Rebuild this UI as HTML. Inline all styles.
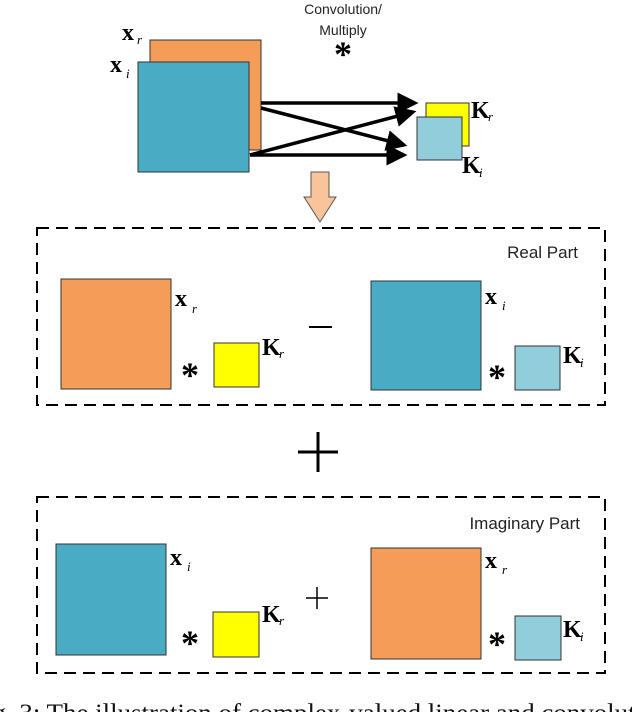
<!DOCTYPE html>
<html><head><meta charset="utf-8"><style>
html,body{margin:0;padding:0;background:#fff;overflow:hidden}
svg{display:block}
.lab{font-family:"Liberation Serif",serif;font-weight:bold;font-size:24px}
.ast{font-family:"Liberation Serif",serif;font-weight:bold;font-size:36px}
.sub{font-family:"Liberation Serif",serif;font-style:italic;font-size:13px}
.sans{font-family:"Liberation Sans","DejaVu Sans",sans-serif}
</style></head><body>
<svg width="632" height="712" viewBox="0 0 632 712" xmlns="http://www.w3.org/2000/svg">
<defs><marker id="ah" markerWidth="6" markerHeight="6" refX="5" refY="3" orient="auto" markerUnits="strokeWidth"><path d="M0,0 L6,3 L0,6 z" fill="#000"/></marker></defs>
<text x="343" y="14" class="sans" font-size="14" text-anchor="middle" fill="#222">Convolution/</text>
<text x="343" y="35" class="sans" font-size="14" text-anchor="middle" fill="#222">Multiply</text>
<text x="343" y="66" class="ast" text-anchor="middle">*</text>
<rect x="150" y="40" width="111" height="110" fill="#f49d59" stroke="#333" stroke-width="1"/>
<rect x="138" y="62" width="111" height="110" fill="#4aabc4" stroke="#333" stroke-width="1"/>
<text x="122" y="40" class="lab">x</text><text x="137" y="44" class="sub">r</text>
<text x="110" y="72" class="lab">x</text><text x="126" y="78" class="sub">i</text>
<rect x="426" y="103" width="43" height="43" fill="#ffff00" stroke="#333"/>
<rect x="417" y="117" width="45" height="43" fill="#92cddb" stroke="#333"/>
<text x="471" y="118" class="lab" font-size="21">K</text><text x="488" y="121" class="sub">r</text>
<text x="462" y="173" class="lab" font-size="21">K</text><text x="479" y="177" class="sub">i</text>
<g stroke="#000" stroke-width="3.5" fill="none" marker-end="url(#ah)">
<line x1="261" y1="103" x2="415" y2="103"/>
<line x1="261" y1="108" x2="404" y2="145"/>
<line x1="250" y1="155" x2="413" y2="112"/>
<line x1="250" y1="155" x2="404" y2="155"/>
</g>
<path d="M311,172 L329,172 L329,197 L336,197 L320,222 L304,197 L311,197 z" fill="#f9c49a" stroke="#555" stroke-width="1"/>
<rect x="37" y="228" width="568" height="177" fill="none" stroke="#000" stroke-width="2" stroke-dasharray="12,7"/>
<text x="578" y="258" class="sans" font-size="17" text-anchor="end" fill="#222">Real Part</text>
<rect x="61" y="279" width="110" height="110" fill="#f49d59" stroke="#333"/>
<text x="175" y="306" class="lab">x</text><text x="192" y="313" class="sub">r</text>
<text x="190" y="387" class="ast" text-anchor="middle">*</text>
<rect x="214" y="343" width="45" height="44" fill="#ffff00" stroke="#333"/>
<text x="262" y="355" class="lab" font-size="21">K</text><text x="279" y="358" class="sub">r</text>
<line x1="309" y1="327" x2="332" y2="327" stroke="#000" stroke-width="2"/>
<rect x="371" y="281" width="110" height="109" fill="#4aabc4" stroke="#333"/>
<text x="485" y="304" class="lab">x</text><text x="502" y="310" class="sub">i</text>
<text x="497" y="389" class="ast" text-anchor="middle">*</text>
<rect x="515" y="346" width="45" height="44" fill="#92cddb" stroke="#333"/>
<text x="563" y="363" class="lab" font-size="21">K</text><text x="580" y="367" class="sub">i</text>
<line x1="298" y1="452" x2="338" y2="452" stroke="#000" stroke-width="3"/>
<line x1="318" y1="432" x2="318" y2="472" stroke="#000" stroke-width="3"/>
<rect x="37" y="497" width="568" height="176" fill="none" stroke="#000" stroke-width="2" stroke-dasharray="12,7"/>
<text x="580" y="529" class="sans" font-size="17" text-anchor="end" fill="#222">Imaginary Part</text>
<rect x="56" y="544" width="110" height="111" fill="#4aabc4" stroke="#333"/>
<text x="170" y="565" class="lab">x</text><text x="187" y="571" class="sub">i</text>
<text x="190" y="655" class="ast" text-anchor="middle">*</text>
<rect x="213" y="612" width="46" height="45" fill="#ffff00" stroke="#333"/>
<text x="262" y="622" class="lab" font-size="21">K</text><text x="279" y="625" class="sub">r</text>
<line x1="306" y1="598" x2="328" y2="598" stroke="#000" stroke-width="1.5"/>
<line x1="317" y1="587" x2="317" y2="609" stroke="#000" stroke-width="1.5"/>
<rect x="371" y="548" width="110" height="111" fill="#f49d59" stroke="#333"/>
<text x="485" y="568" class="lab">x</text><text x="502" y="574" class="sub">r</text>
<text x="497" y="656" class="ast" text-anchor="middle">*</text>
<rect x="515" y="616" width="46" height="44" fill="#92cddb" stroke="#333"/>
<text x="563" y="637" class="lab" font-size="21">K</text><text x="580" y="641" class="sub">i</text>
<text x="-30" y="721" font-family="Liberation Serif,serif" font-size="25" fill="#111" textLength="700" lengthAdjust="spacingAndGlyphs">Fig. 3: The illustration of complex-valued linear and convolution</text>
</svg>
</body></html>
